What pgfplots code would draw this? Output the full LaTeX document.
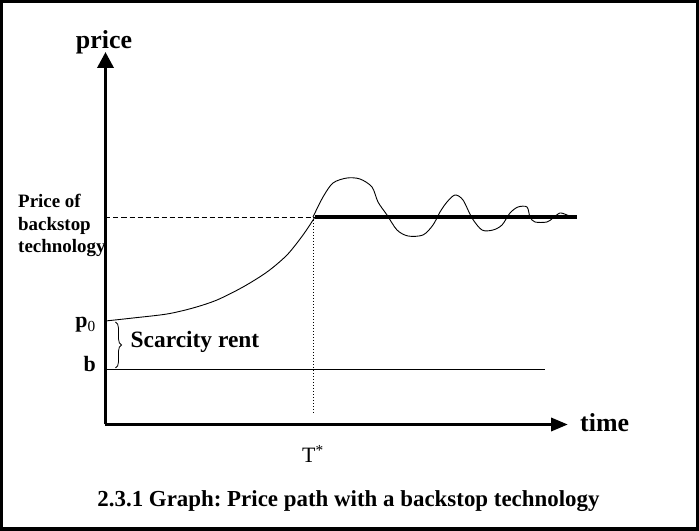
\documentclass[border=0pt]{standalone}
\usepackage{pgfplots}
\pgfplotsset{compat=1.18}
\usepackage{fontspec}
\setmainfont{Liberation Serif}
\usetikzlibrary{arrows.meta,decorations.pathreplacing}
\frenchspacing
\begin{document}
\begin{tikzpicture}
\begin{axis}[
  x=1bp, y=1bp,
  xmin=0, xmax=462.5, ymin=0, ymax=372.5,
  axis lines=left,
  axis line style={line width=3.5bp},
  x axis line style={-{Triangle[length=17bp,width=13bp]}},
  y axis line style={-{Triangle[length=16bp,width=16bp]}},
  ticks=none,
  clip=false,
]
% rising price path
\addplot[black, line width=0.9bp, smooth] coordinates {
(0,103.5) (27.5,106.5) (61.5,110.5) (87.5,116.5) (111.5,124.5) (137.5,137.5)
(161.5,152.5) (181.5,169.5) (197.5,189.5) (209.5,207.5)};
% oscillation around backstop price
\addplot[black, line width=0.9bp, smooth, tension=0.5] coordinates {
(207.5,207.5) (217.5,227.5) (227.5,241.5) (241.5,246.5) (254.5,245.5) (266.5,237.5)
(272.5,222.5) (281.5,209.5) (291.5,194.5) (302.5,188.5) (317.5,189.5) (327.5,199.5)
(334.5,212.5) (341.5,222.5) (349.5,229.5) (357.5,224.5) (366.5,206.5) (376.5,194.5)
(387.5,194.5) (396.5,199.5) (404.5,211.5) (412.5,217.5) (421.5,217.5) (424.5,207.5)
(429.5,202.5) (441.5,202.5) (447.5,206.5) (454.5,211.5) (461.5,209.5) (464.5,208.5)};
% backstop price (thick)
\addplot[black, line width=3.5bp] coordinates {(209.5,207.5) (471.5,207.5)};
% dashed guide
\addplot[black, line width=0.8bp, dash pattern=on 5bp off 3bp] coordinates {(0,207.5) (209.5,207.5)};
% dotted T*
\addplot[black, line width=0.8bp, dash pattern=on 1bp off 2bp] coordinates {(207.5,207.5) (207.5,11.5)};
% b line
\addplot[black, line width=0.9bp] coordinates {(0,55.5) (439.5,55.5)};
% brace
\draw[decorate, decoration={brace, amplitude=6bp}, line width=0.8bp]
  (axis cs:10,102.5) -- (axis cs:10,56.5);
% frame
\draw[line width=3.5bp] (axis cs:-103.75,422.75) rectangle (axis cs:591.75,-104.75);
% labels
\node[anchor=base, inner sep=0pt, font=\fontsize{26}{30}\selectfont\bfseries] at (axis cs:-1.5,376) {price};
\node[anchor=base west, inner sep=0pt, font=\fontsize{26}{30}\selectfont\bfseries] at (axis cs:474.5,-7.5) {time};
\node[anchor=base, inner sep=0pt, font=\fontsize{22}{26}\selectfont] at (axis cs:207.5,-38.5) {T\textsuperscript{*}};
\node[anchor=base east, font=\fontsize{22}{26}\selectfont\bfseries, inner sep=0pt] at (axis cs:-9.5,96.5) {p\textsubscript{\mdseries 0}};
\node[anchor=base east, font=\fontsize{22}{26}\selectfont\bfseries, inner sep=0pt] at (axis cs:-9.5,52.5) {b};
\node[anchor=base west, font=\fontsize{23.5}{27}\selectfont\bfseries, inner sep=0pt] at (axis cs:25,76.5) {Scarcity rent};
\node[anchor=base west, font=\fontsize{19}{23}\selectfont\bfseries, inner sep=0pt, align=left] at (axis cs:-87.5,171.5) {Price of\\backstop\\technology};
\node[anchor=base, inner sep=0pt, font=\fontsize{23}{27}\selectfont\bfseries] at (axis cs:243,-82.5) {2.3.1 Graph: Price path with a backstop technology};
\end{axis}
\end{tikzpicture}
\end{document}
